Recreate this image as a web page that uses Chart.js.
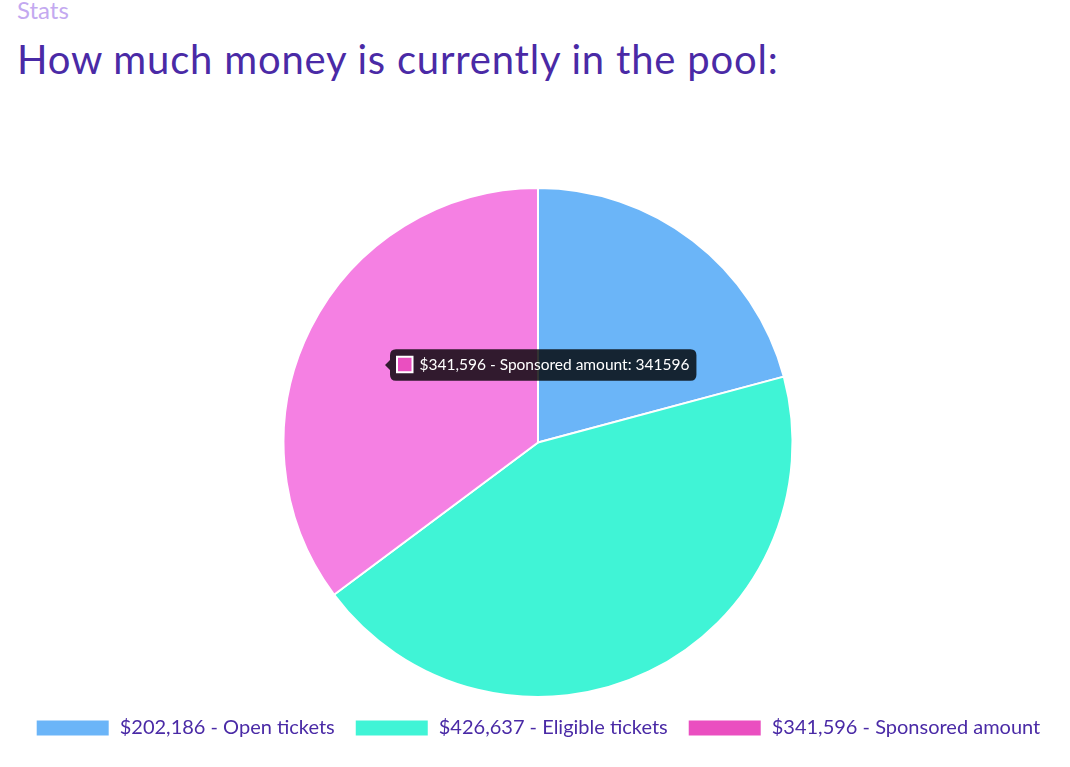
<!DOCTYPE html>
<html>
<head>
<meta charset="utf-8">
<script src="https://cdn.jsdelivr.net/npm/chart.js@4"></script>
<style>
  html, body { margin: 0; padding: 0; background: #ffffff; width: 1070px; height: 767px; overflow: hidden; }
  body { font-family: Lato, "Open Sans", sans-serif; position: relative; }
  #kicker { position: absolute; left: 17px; top: -5px; font-size: 24px; line-height: 30px; color: #c3a9f0; }
  #title { position: absolute; left: 17px; top: 35px; font-size: 40px; line-height: 48px; letter-spacing: 0.8px; color: #4a2aa6; font-weight: 400; margin: 0; }
  #wrap { position: absolute; left: 8px; top: 187px; width: 1060px; height: 561px; }
</style>
</head>
<body>
<div id="kicker">Stats</div>
<h1 id="title">How much money is currently in the pool:</h1>
<div id="wrap"><canvas id="c"></canvas></div>
<script>
const categories = ["Open tickets", "Eligible tickets", "Sponsored amount"];
const values = [202186, 426637, 341596];
const colors = ["#6bb5f8", "#40f4d6", "#ea4fc0"];
const hoverColors = ["#6bb5f8", "#40f4d6", "#f580e3"];
const labels = categories.map((c, i) => "$" + values[i].toLocaleString("en-US") + " - " + c);

Chart.Tooltip.positioners.atEvent = function (items, eventPosition) {
  return eventPosition ? { x: eventPosition.x, y: eventPosition.y } : false;
};

const chart = new Chart(document.getElementById("c"), {
  type: "pie",
  data: {
    labels: labels,
    datasets: [{
      data: values,
      backgroundColor: colors,
      hoverBackgroundColor: hoverColors,
      borderColor: "#ffffff",
      hoverBorderColor: "#ffffff",
      borderWidth: 2,
      hoverOffset: 0
    }]
  },
  options: {
    responsive: true,
    maintainAspectRatio: false,
    animation: false,
    events: [],
    layout: { padding: 0 },
    plugins: {
      legend: {
        position: "bottom",
        labels: {
          boxWidth: 74,
          boxHeight: 17,
          padding: 20,
          color: "#4a2aa6",
          font: { family: "Lato, 'Open Sans', sans-serif", size: 20 }
        }
      },
      tooltip: {
        position: "atEvent",
        xAlign: "left",
        yAlign: "center",
        backgroundColor: "rgba(0,0,0,0.8)",
        bodyColor: "#ffffff",
        bodyFont: { family: "Lato, 'Open Sans', sans-serif", size: 15.5 },
        padding: { left: 7, right: 7, top: 6, bottom: 7 },
        boxPadding: 5,
        cornerRadius: 6,
        caretSize: 5,
        caretPadding: 2,
        callbacks: {
          title: function () { return ""; },
          label: function (ctx) { return ctx.label + ": " + ctx.raw; }
        }
      }
    }
  }
});

const active = [{ datasetIndex: 0, index: 2 }];
chart.setActiveElements(active);
chart.tooltip.setActiveElements(active, { x: 375, y: 178 });
chart.render();
</script>
</body>
</html>
